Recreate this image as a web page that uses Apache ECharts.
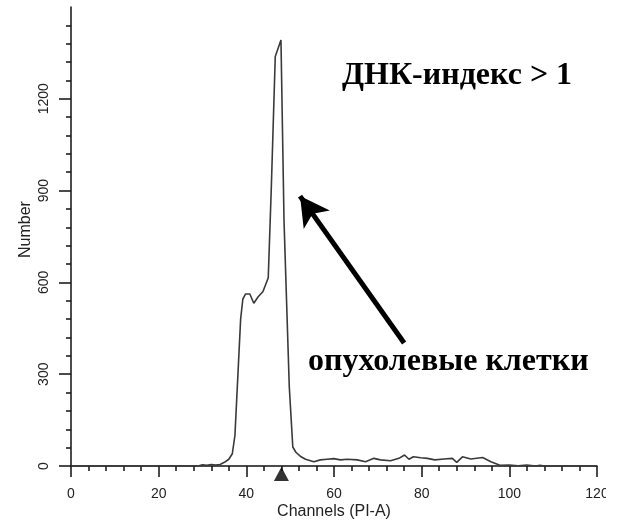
<!DOCTYPE html>
<html>
<head>
<meta charset="utf-8">
<script src="https://cdn.jsdelivr.net/npm/echarts@6/dist/echarts.min.js"></script>
<style>
  html, body { margin: 0; padding: 0; background: #fff; }
  #chart { width: 617px; height: 522px; }
</style>
</head>
<body>
<div id="chart"></div>
<script>
// DNA histogram: PI-A channel vs. event count
const channels = [0, 29, 30, 31, 32, 33, 34, 35, 36, 36.8, 37.4, 38.7, 39.2, 39.8, 40.8, 41.7, 42.7, 43.8, 45, 45.7, 46.6, 47.9, 48.6, 49.8, 50.6, 51.3, 52.3, 53.5, 55.4, 56.9, 58.4, 59.9, 61.5, 63, 65.3, 67.2, 69.1, 70.6, 72.9, 74.8, 76.1, 77.1, 78.1, 79.8, 81.3, 83, 85.1, 87, 88, 89.3, 91.2, 93.9, 95.8, 98, 100, 102, 104, 106, 107, 108, 120];
const counts   = [0, 0, 4, 2, 5, 3, 5, 12, 22, 40, 100, 480, 545, 562, 562, 532, 553, 570, 615, 910, 1338, 1392, 800, 259, 62, 45, 32, 22, 14, 20, 22, 24, 20, 22, 20, 14, 25, 20, 17, 25, 36, 22, 30, 27, 25, 20, 23, 25, 12, 30, 23, 28, 14, 2, 3, 1, 3, 0, 2, 0, 0];

// G1 peak marker position on the channel axis
const peakMarkerChannel = [48];

// annotation arrow: from the label towards the peak
const arrowFrom = [76, 402];
const arrowTo = [52.25, 882];

const xTicks = [0, 20, 40, 60, 80, 100, 120];
const yTicks = [0, 300, 600, 900, 1200];

const titleText = 'ДНК-индекс > 1';
const cellsText = 'опухолевые клетки';

const axisFont = 'Liberation Sans, Arial, sans-serif';
const serifFont = 'Liberation Serif, Times New Roman, serif';

const chart = echarts.init(document.getElementById('chart'), null, { renderer: 'canvas' });

const axisCommon = {
  axisLine: { show: true, lineStyle: { color: '#111', width: 1.5 } },
  splitLine: { show: false },
  axisLabel: { color: '#222', fontFamily: axisFont, fontSize: 14, formatter: v => String(v) },
  nameTextStyle: { color: '#222', fontFamily: axisFont, fontSize: 16 },
  nameMoveOverlap: false
};

chart.setOption({
  animation: false,
  backgroundColor: '#fff',
  grid: { left: 71, right: 20, top: 7, bottom: 56, containLabel: false, outerBoundsMode: 'none' },
  xAxis: {
    type: 'value',
    min: 0, max: 120, interval: 20,
    ...axisCommon,
    axisTick: { show: true, length: 11, lineStyle: { color: '#111', width: 1.5 } },
    minorTick: { show: true, splitNumber: 5, length: 5, lineStyle: { color: '#111', width: 1.5 } },
    axisLabel: { ...axisCommon.axisLabel, margin: 21, customValues: xTicks },
    name: 'Channels (PI-A)',
    nameLocation: 'middle',
    nameGap: 38
  },
  yAxis: {
    type: 'value',
    min: 0, max: 1500, interval: 300,
    ...axisCommon,
    axisTick: { show: true, length: 12, customValues: yTicks, lineStyle: { color: '#111', width: 1.5 } },
    minorTick: { show: true, splitNumber: 5, length: 5, lineStyle: { color: '#111', width: 1.5 } },
    axisLabel: { ...axisCommon.axisLabel, rotate: 90, margin: 20, customValues: yTicks },
    name: 'Number',
    nameLocation: 'middle',
    nameRotate: 90,
    nameGap: 37,
    nameTextStyle: { ...axisCommon.nameTextStyle, padding: [0, 0, 0, 14] }
  },
  series: [
    {
      type: 'line',
      data: channels.map((c, i) => [c, counts[i]]),
      showSymbol: false,
      symbol: 'none',
      lineStyle: { color: '#3a3a3a', width: 1.6 },
      z: 3,
      markLine: {
        silent: true,
        symbol: ['none', 'arrow'],
        symbolSize: [24, 29],
        lineStyle: { color: '#000', width: 5, type: 'solid' },
        label: { show: false },
        data: [[{ coord: arrowFrom }, { coord: arrowTo }]]
      }
    },
    {
      type: 'scatter',
      data: peakMarkerChannel.map(c => [c, 0]),
      symbol: 'triangle',
      symbolSize: [15, 14],
      symbolOffset: [0, 8],
      itemStyle: { color: '#000' },
      clip: false,
      silent: true,
      z: 5
    }
  ],
  graphic: [
    {
      type: 'rect', z: 100, silent: true,
      shape: { x: 606, y: 480, width: 11, height: 28 },
      style: { fill: '#fff' }
    },
    {
      type: 'text', z: 100, silent: true,
      left: 342, top: 60,
      style: { text: titleText, font: 'bold 32px ' + serifFont, fill: '#000' }
    },
    {
      type: 'text', z: 100, silent: true,
      left: 308, top: 346,
      style: { text: cellsText, font: 'bold 32px ' + serifFont, fill: '#000' }
    }
  ]
});
</script>
</body>
</html>
